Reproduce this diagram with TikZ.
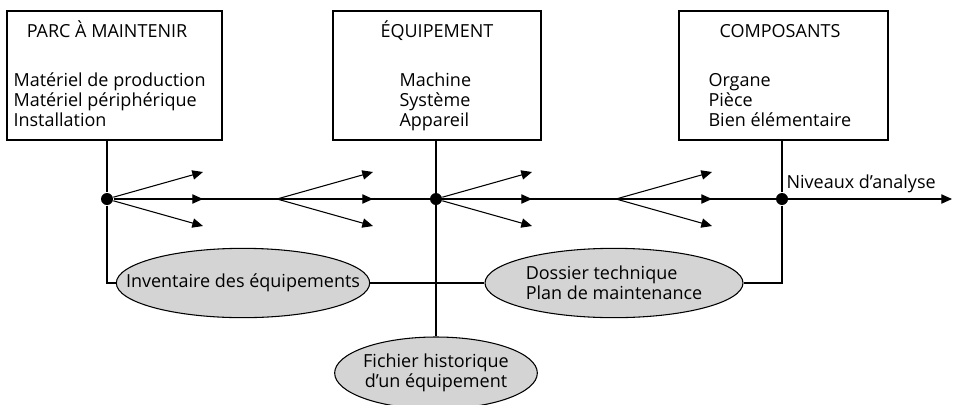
\documentclass[tikz,border=0pt]{standalone}
\usepackage{fontspec}
\setmainfont{Open Sans}
\usepackage{xcolor}
\usetikzlibrary{shapes.geometric, arrows.meta}

\definecolor{ovalgray}{RGB}{212,212,212}

\begin{document}
\begin{tikzpicture}[
  x=0.75pt, y=-0.75pt,
  line width=0.8pt,
  every node/.style={font=\fontsize{13.5}{15}\selectfont},
  box/.style={draw, rectangle, inner sep=0pt, minimum height=96.75pt},
  title/.style={anchor=base, inner sep=0pt},
  items/.style={align=left, anchor=base west, inner sep=0pt},
  oval/.style={draw, ellipse, fill=ovalgray, inner sep=0pt},
  lbl/.style={inner sep=0pt, font=\fontsize{13.5}{15}\selectfont},
  dot/.style={circle, fill, inner sep=0pt, minimum size=9pt},
  arrow/.style={-{Triangle[length=8pt, width=7pt]}},
]
\useasboundingbox (0,0) rectangle (953,404);

% Boxes
\node[box, minimum width=161.25pt] (parc) at (114.5,75.5) {};
\node[box, minimum width=156pt] (equip) at (437,75.5) {};
\node[box, minimum width=156.75pt] (comp) at (783.5,75.5) {};

\node[title] (parcT) at (107,37) {PARC À MAINTENIR};
\node[title] (equipT) at (437,37) {ÉQUIPEMENT};
\node[title] (compT) at (780,37) {COMPOSANTS};

% lists: base is the baseline of the last line
\node[items] (parcL) at (13,126) {Matériel de production\\Matériel périphérique\\Installation};
\node[items] (equipL) at (399,126) {Machine\\Système\\Appareil};
\node[items] (compL) at (708,126) {Organe\\Pièce\\Bien élémentaire};

% Levels axis
\node[dot] (dotA) at (107,199) {};
\node[dot] (dotB) at (436,199) {};
\node[dot] (dotC) at (782,199) {};
\coordinate (fanB) at (277,199);
\coordinate (fanD) at (616,199);
\coordinate (axisEnd) at (952,199);
\node[anchor=base west, inner sep=0pt] (niv) at (786,188) {Niveaux d’analyse};

% Documents
\node[oval, minimum width=190pt, minimum height=52pt,
  label={[lbl]center:Inventaire des équipements}] (inv) at (243,283) {};
\node[oval, minimum width=193.5pt, minimum height=52pt,
  label={[lbl, align=left]center:Dossier technique\\Plan de maintenance}] (dos) at (614,283) {};
\node[oval, minimum width=152pt, minimum height=54pt,
  label={[lbl, align=center]center:Fichier historique\\d’un équipement}] (fich) at (436,373) {};

% Connections
\draw (parc.south -| dotA) -- (dotA) |- (inv.west);
\draw (equip.south -| dotB) -- (fich.north -| dotB);
\draw (comp.south -| dotC) -- (dotC) |- (dos.east);
\draw (inv.east) -- (dos.west);
\draw[arrow] (dotA) -- (axisEnd);

% Fans of arrows
\foreach \o in {dotA, fanB, dotB, fanD} {
  \path (\o) ++(96,-27) coordinate (\o-up) ++(0,27) coordinate (\o-mid) ++(0,27) coordinate (\o-down);
  \draw[arrow] (\o) -- (\o-up);
  \draw[arrow] (\o) -- (\o-mid);
  \draw[arrow] (\o) -- (\o-down);
}
\end{tikzpicture}
\end{document}
